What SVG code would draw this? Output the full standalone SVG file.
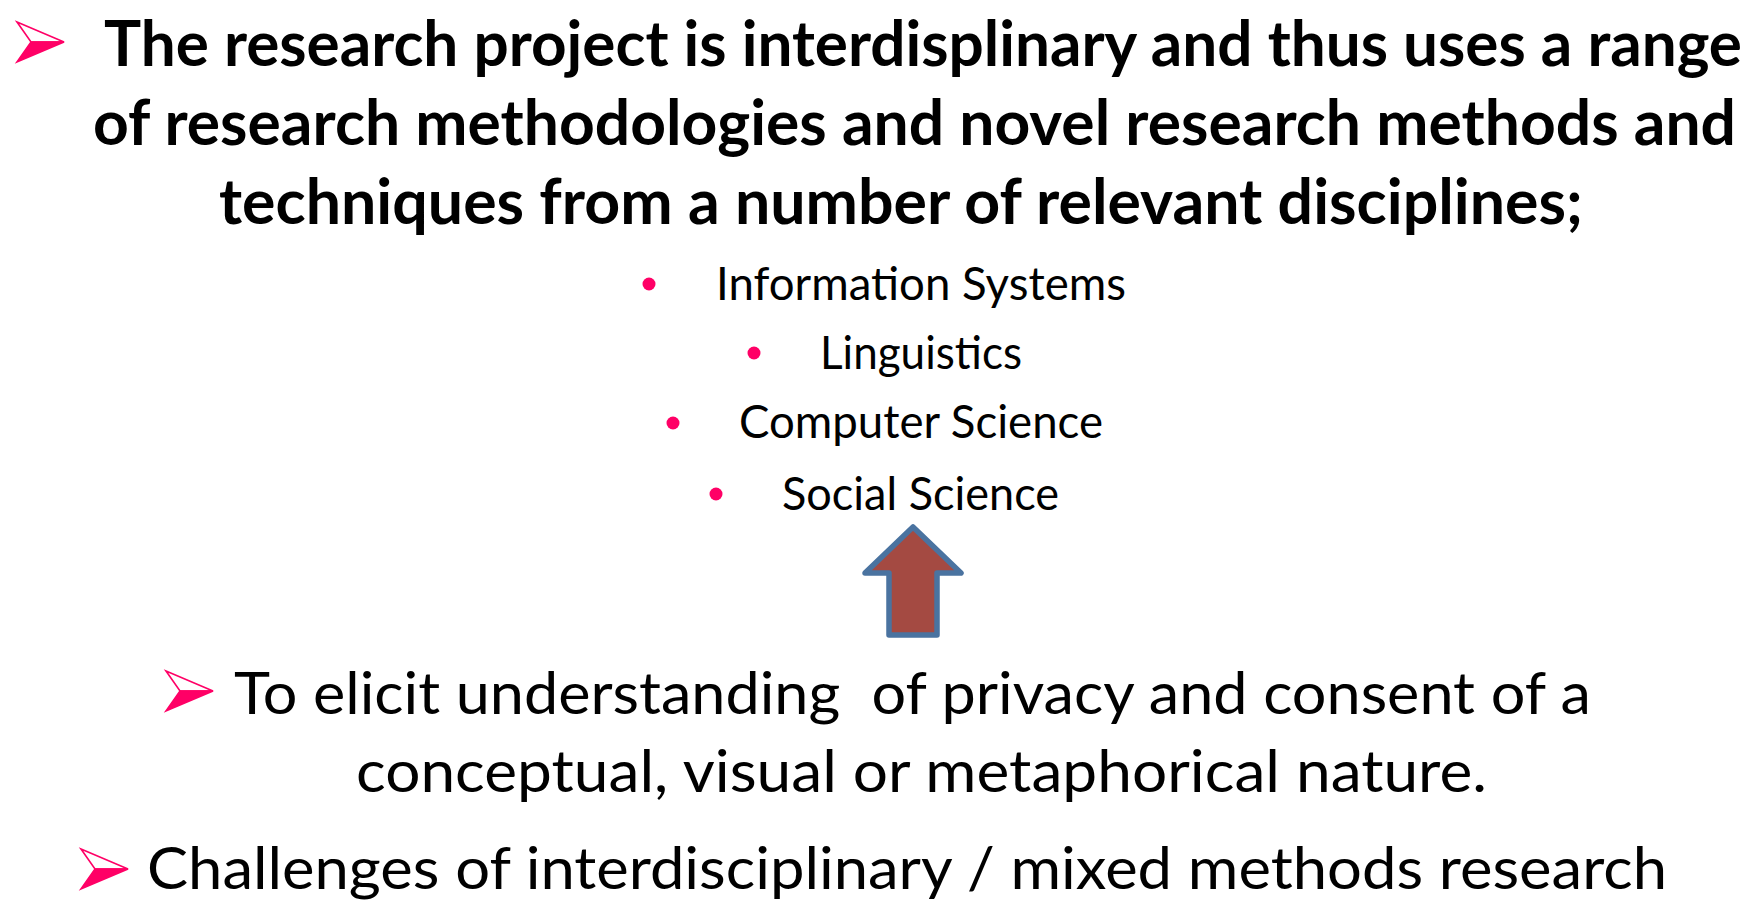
<svg xmlns="http://www.w3.org/2000/svg" width="1754" height="901" viewBox="0 0 1754 901">
  <defs>
    <!-- pink arrowhead bullet: outlined upper half, filled lower half -->
    <g id="arrowBullet">
      <path d="M0,0 L47,20 L14,20 Z" fill="#ffffff" stroke="#ff0066" stroke-width="1.6" stroke-linejoin="miter"/>
      <path d="M14,20 L47,20 L0,40 Z" fill="#ff0066" stroke="#ff0066" stroke-width="1.6" stroke-linejoin="miter"/>
    </g>
  </defs>
  <style>
    .bold { font-family: Lato, "Liberation Sans", sans-serif; font-weight: 700; font-size: 63px; fill: #000; }
    .main { font-family: Lato, "Liberation Sans", sans-serif; font-weight: 400; font-size: 59px; fill: #000; white-space: pre; }
    .item { font-family: Lato, "Liberation Sans", sans-serif; font-weight: 400; font-size: 47px; fill: #000; }
    .dot { fill: #ff0066; }
  </style>
  <rect width="1754" height="901" fill="#ffffff"/>

  <!-- heading bullet -->
  <g id="heading">
    <use href="#arrowBullet" x="17" y="22"/>
    <text class="bold" x="104" y="66" textLength="1638" lengthAdjust="spacingAndGlyphs">The research project is interdisplinary and thus uses a range</text>
    <text class="bold" x="93" y="145" textLength="1643" lengthAdjust="spacingAndGlyphs">of research methodologies and novel research methods and</text>
    <text class="bold" x="219" y="224" textLength="1364" lengthAdjust="spacingAndGlyphs">techniques from a number of relevant disciplines;</text>
  </g>

  <!-- discipline list -->
  <g id="disciplines">
    <circle class="dot" cx="649" cy="284" r="6.5"/>
    <text class="item" x="716" y="300" textLength="410" lengthAdjust="spacingAndGlyphs">Information Systems</text>
    <circle class="dot" cx="754" cy="353" r="6.5"/>
    <text class="item" x="820" y="369" textLength="202" lengthAdjust="spacingAndGlyphs">Linguistics</text>
    <circle class="dot" cx="673" cy="423" r="6.5"/>
    <text class="item" x="739" y="438" textLength="364" lengthAdjust="spacingAndGlyphs">Computer Science</text>
    <circle class="dot" cx="716" cy="494" r="6.5"/>
    <text class="item" x="782" y="510" textLength="277" lengthAdjust="spacingAndGlyphs">Social Science</text>
  </g>

  <!-- block arrow pointing up -->
  <g id="connectors">
    <path d="M913,527 L961,573 L937,573 L937,635 L889,635 L889,573 L865,573 Z" fill="#a44a42" stroke="#4a73a0" stroke-width="5.5" stroke-linejoin="round"/>
  </g>

  <!-- aim bullet -->
  <g id="aim">
    <use href="#arrowBullet" x="166" y="671"/>
    <text class="main" x="234" y="714" textLength="1357" lengthAdjust="spacingAndGlyphs" xml:space="preserve">To elicit understanding  of privacy and consent of a</text>
    <text class="main" x="356" y="792" textLength="1131" lengthAdjust="spacingAndGlyphs">conceptual, visual or metaphorical nature.</text>
  </g>

  <!-- challenges bullet -->
  <g id="challenges">
    <use href="#arrowBullet" x="81" y="849"/>
    <text class="main" x="147" y="889" textLength="1520" lengthAdjust="spacingAndGlyphs">Challenges of interdisciplinary / mixed methods research</text>
  </g>
</svg>
